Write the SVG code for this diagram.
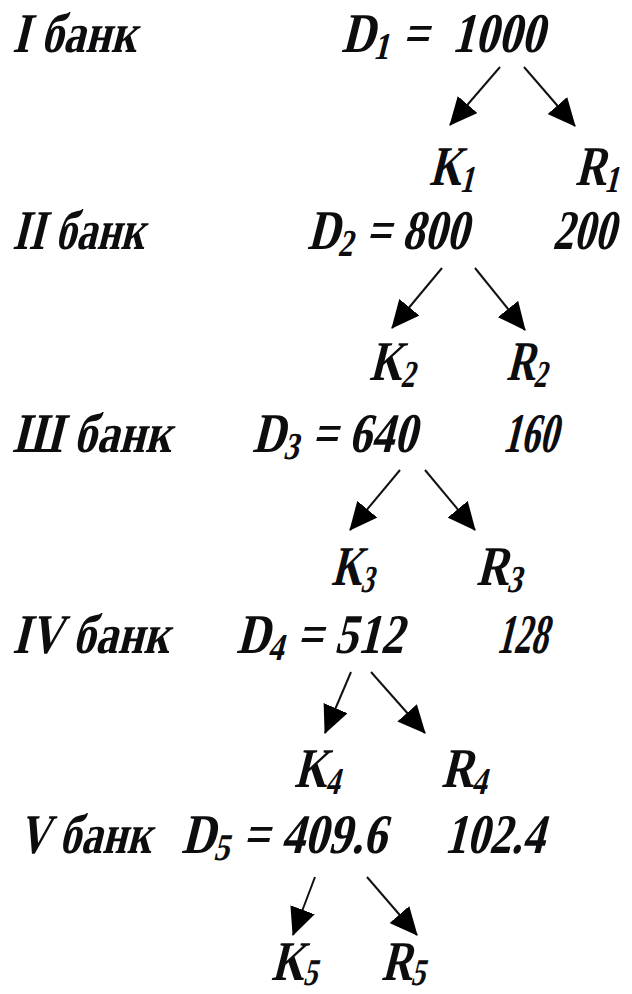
<svg xmlns="http://www.w3.org/2000/svg" width="632" height="994" viewBox="0 0 632 994">
<style>
text{font-family:'Liberation Serif','Times New Roman',serif;font-weight:700;font-style:normal;font-size:56px;fill:#0d0d10}
.s{font-size:38px}
.c{stroke:#111;stroke-width:2;fill:none;marker-end:url(#ah)}
</style>
<defs>
<marker id="ah" markerUnits="userSpaceOnUse" markerWidth="28" markerHeight="26" viewBox="0 0 28 26" refX="27" refY="13" orient="auto">
<path d="M0,0 L28,13 L0,26 z" fill="#000"/>
</marker>
</defs>
<rect width="632" height="994" fill="#fff"/>
<g id="bank1" transform="translate(12,52) skewX(-14)"><text textLength="124" lengthAdjust="spacingAndGlyphs">I банк</text></g>
<g id="bank2" transform="translate(12,249) skewX(-14)"><text textLength="132" lengthAdjust="spacingAndGlyphs">II банк</text></g>
<g id="bank3" transform="translate(12,452) skewX(-14)"><text textLength="159" lengthAdjust="spacingAndGlyphs">Ш банк</text></g>
<g id="bank4" transform="translate(12,653) skewX(-14)"><text textLength="157" lengthAdjust="spacingAndGlyphs">IV банк</text></g>
<g id="bank5" transform="translate(18,853) skewX(-14)"><text textLength="133" lengthAdjust="spacingAndGlyphs">V банк</text></g>

<g id="D1" transform="translate(341,52) skewX(-14)"><text textLength="203" lengthAdjust="spacingAndGlyphs">D<tspan class="s" dy="7">1</tspan><tspan dy="-7"> =&#160; 1000</tspan></text></g>
<g id="K1" transform="translate(429,185) skewX(-14)"><text textLength="46" lengthAdjust="spacingAndGlyphs">K<tspan class="s" dy="7">1</tspan></text></g>
<g id="R1" transform="translate(575,185) skewX(-14)"><text textLength="45" lengthAdjust="spacingAndGlyphs">R<tspan class="s" dy="7">1</tspan></text></g>

<g id="D2" transform="translate(307,249) skewX(-14)"><text textLength="161" lengthAdjust="spacingAndGlyphs">D<tspan class="s" dy="7">2</tspan><tspan dy="-7"> = 800</tspan></text></g>
<g id="V200" transform="translate(552,249) skewX(-14)"><text textLength="63" lengthAdjust="spacingAndGlyphs">200</text></g>
<g id="K2" transform="translate(369,380) skewX(-14)"><text textLength="47" lengthAdjust="spacingAndGlyphs">K<tspan class="s" dy="7">2</tspan></text></g>
<g id="R2" transform="translate(506,380) skewX(-14)"><text textLength="42" lengthAdjust="spacingAndGlyphs">R<tspan class="s" dy="7">2</tspan></text></g>

<g id="D3" transform="translate(252,452) skewX(-14)"><text textLength="164" lengthAdjust="spacingAndGlyphs">D<tspan class="s" dy="7">3</tspan><tspan dy="-7"> = 640</tspan></text></g>
<g id="V160" transform="translate(502,452) skewX(-14)"><text textLength="55" lengthAdjust="spacingAndGlyphs">160</text></g>
<g id="K3" transform="translate(331,585) skewX(-14)"><text textLength="44" lengthAdjust="spacingAndGlyphs">K<tspan class="s" dy="7">3</tspan></text></g>
<g id="R3" transform="translate(476,585) skewX(-14)"><text textLength="47" lengthAdjust="spacingAndGlyphs">R<tspan class="s" dy="7">3</tspan></text></g>

<g id="D4" transform="translate(236,653) skewX(-14)"><text textLength="167" lengthAdjust="spacingAndGlyphs">D<tspan class="s" dy="7">4</tspan><tspan dy="-7"> = 512</tspan></text></g>
<g id="V128" transform="translate(496,653) skewX(-14)"><text textLength="51" lengthAdjust="spacingAndGlyphs">128</text></g>
<g id="K4" transform="translate(294,787) skewX(-14)"><text textLength="47" lengthAdjust="spacingAndGlyphs">K<tspan class="s" dy="7">4</tspan></text></g>
<g id="R4" transform="translate(441,787) skewX(-14)"><text textLength="47" lengthAdjust="spacingAndGlyphs">R<tspan class="s" dy="7">4</tspan></text></g>

<g id="D5" transform="translate(181,853) skewX(-14)"><text textLength="205" lengthAdjust="spacingAndGlyphs">D<tspan class="s" dy="7">5</tspan><tspan dy="-7"> = 409.6</tspan></text></g>
<g id="V1024" transform="translate(444,853) skewX(-14)"><text textLength="100" lengthAdjust="spacingAndGlyphs">102.4</text></g>
<g id="K5" transform="translate(271,980) skewX(-14)"><text textLength="47" lengthAdjust="spacingAndGlyphs">K<tspan class="s" dy="5">5</tspan></text></g>
<g id="R5" transform="translate(381,980) skewX(-14)"><text textLength="45" lengthAdjust="spacingAndGlyphs">R<tspan class="s" dy="5">5</tspan></text></g>

<g id="connectors">
<line class="c" x1="500" y1="67" x2="450" y2="125"/>
<line class="c" x1="524" y1="67" x2="575" y2="126"/>
<line class="c" x1="442" y1="268" x2="392" y2="328"/>
<line class="c" x1="475" y1="268" x2="525" y2="330"/>
<line class="c" x1="400" y1="470" x2="350" y2="530"/>
<line class="c" x1="425" y1="470" x2="475" y2="530"/>
<line class="c" x1="351" y1="672" x2="325" y2="733"/>
<line class="c" x1="371" y1="672" x2="425" y2="733"/>
<line class="c" x1="315" y1="877" x2="293" y2="935"/>
<line class="c" x1="367" y1="877" x2="417" y2="935"/>
</g>
</svg>
